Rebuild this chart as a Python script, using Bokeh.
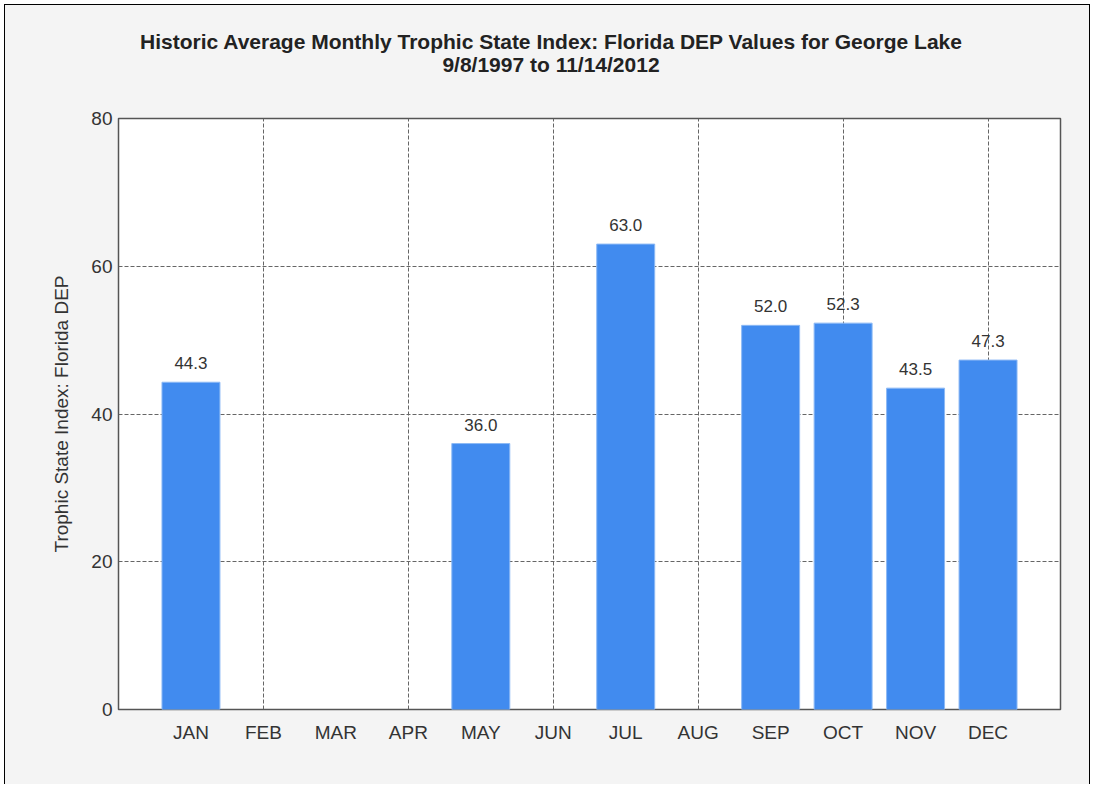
from bokeh.plotting import figure
from bokeh.models import ColumnDataSource, FixedTicker, Div
from bokeh.layouts import column
from bokeh.embed import file_html
from bokeh.resources import INLINE
from bokeh.core.properties import value

# ---- data ----
months = ["JAN", "FEB", "MAR", "APR", "MAY", "JUN", "JUL", "AUG", "SEP", "OCT", "NOV", "DEC"]
tsi_values = [44.3, None, None, None, 36.0, None, 63.0, None, 52.0, 52.3, 43.5, 47.3]
y_ticks = [0, 20, 40, 60, 80]
title_line1 = "Historic Average Monthly Trophic State Index: Florida DEP Values for George Lake"
title_line2 = "9/8/1997 to 11/14/2012"
y_label = "Trophic State Index: Florida DEP"

xs, ys, labels = [], [], []
for i, (m, v) in enumerate(zip(months, tsi_values)):
    if v is not None:
        xs.append(i + 1)
        ys.append(v)
        labels.append(f"{v:.1f}")
src = ColumnDataSource(data=dict(x=xs, top=ys, label=labels))

FONT = "Liberation Sans"
TXT = "#333333"
BG = "#f4f4f4"

p = figure(width=1084, height=699, x_range=(0, 13), y_range=(0, 80),
           output_backend="svg", toolbar_location=None,
           min_border_left=113, min_border_right=29,
           min_border_top=33, min_border_bottom=75)
p.border_fill_color = BG
p.background_fill_color = "#ffffff"
p.outline_line_color = "#555555"
p.outline_line_width = 1.5

p.vbar(x="x", top="top", width=0.8, source=src,
       fill_color="#418BEF", line_color="#8CB9F5", line_width=1)
p.text(x="x", y="top", text="label", source=src,
       text_align="center", text_baseline="bottom", y_offset=-13,
       text_font=value(FONT), text_font_size="17px", text_color=TXT)

# axes
p.xaxis.ticker = FixedTicker(ticks=list(range(1, 13)))
p.xaxis.major_label_overrides = {i + 1: m for i, m in enumerate(months)}
p.yaxis.ticker = FixedTicker(ticks=y_ticks)
for ax in (p.xaxis[0], p.yaxis[0]):
    ax.axis_line_color = None
    ax.major_tick_line_color = None
    ax.major_tick_out = 0
    ax.major_tick_in = 0
    ax.minor_tick_line_color = None
    ax.minor_tick_out = 0
    ax.major_label_text_font = FONT
    ax.major_label_text_font_size = "19px"
    ax.major_label_text_color = TXT
p.xaxis.major_label_standoff = 12
p.yaxis.major_label_standoff = 6
p.yaxis.axis_label = y_label
p.yaxis.axis_label_text_font = FONT
p.yaxis.axis_label_text_font_style = "normal"
p.yaxis.axis_label_text_font_size = "19px"
p.yaxis.axis_label_text_color = TXT
p.yaxis.axis_label_standoff = 16

# grids
p.xgrid.ticker = FixedTicker(ticks=[2, 4, 6, 8, 10, 12])
p.ygrid.ticker = FixedTicker(ticks=[20, 40, 60])
for g in (p.xgrid[0], p.ygrid[0]):
    g.grid_line_color = "#666666"
    g.grid_line_dash = "4 2"
    g.grid_line_width = 1

# title (centred on the whole canvas)
header = Div(
    text=(f"<div style='font-family:\"Liberation Sans\",Arial,sans-serif;font-weight:bold;"
          f"font-size:21px;line-height:23px;color:#222;text-align:center;"
          f"width:1084px;padding-top:25px;padding-left:8px;box-sizing:border-box;'>"
          f"{title_line1}<br>{title_line2}</div>"),
    width=1084, height=80, margin=0,
    styles={"background-color": BG})

layout = column(header, p, spacing=0, margin=0,
                styles={"background-color": BG, "border": "1px solid #000",
                        "border-bottom": "none", "margin-left": "4px",
                        "margin-top": "4px"})

open("out.html", "w").write(file_html(layout, INLINE))
